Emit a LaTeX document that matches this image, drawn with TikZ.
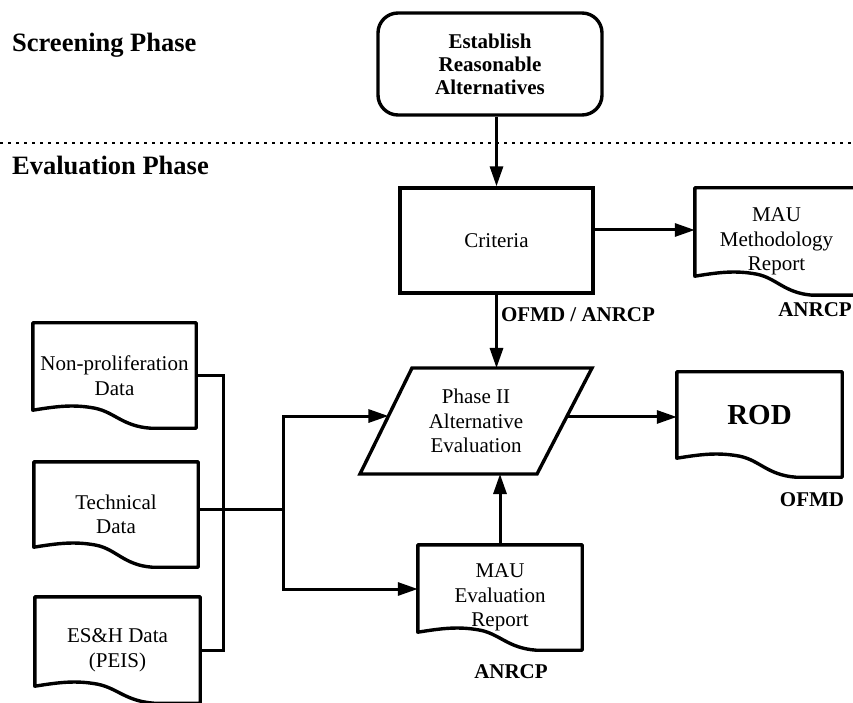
\documentclass[tikz,border=0pt]{standalone}
\usepackage{fontspec}
\setmainfont{Liberation Serif}
\usetikzlibrary{arrows.meta,calc}

\tikzset{
  outline/.style={line width=3.4pt},
  flow/.style={line width=3pt},
  arr/.style={flow,-{Triangle[length=20pt,width=13pt]}},
  box/.style={draw, outline, inner sep=0pt, align=center,
              font=\fontsize{21}{24.5}\selectfont},
  docnode/.style={inner sep=0pt, align=center, font=\fontsize{21}{24.5}\selectfont},
  tag/.style={font=\bfseries\fontsize{21}{23}\selectfont, inner sep=0pt},
  phasetitle/.style={font=\bfseries\fontsize{26.5}{30}\selectfont, inner sep=0pt, anchor=base west},
  divider/.style={line width=2.2pt, dash pattern=on 2.5pt off 5.5pt},
}

% Document symbol: rectangle whose bottom edge is a wave.
% #1 = node name, #2 = height of the wave's left end above the bottom
\newcommand\docoutline[2]{%
  \draw[outline, line join=round] (#1.north west) -- ($(#1.south west)+(0,#2)$)
    .. controls ($(#1.south west)!0.15!(#1.south east)+(0,#2+4)$)
           and ($(#1.south west)!0.25!(#1.south east)+(0,#2+6)$)
    .. ($(#1.south west)!0.38!(#1.south east)+(0,#2+2)$)
    .. controls ($(#1.south west)!0.5!(#1.south east)+(0,#2-2)$)
           and ($(#1.south west)!0.55!(#1.south east)+(0,2)$)
    .. ($(#1.south west)!0.72!(#1.south east)$)
    -- (#1.south east) -- (#1.north east) -- cycle;}

\begin{document}
\begin{tikzpicture}[x=1pt,y=1pt]
\useasboundingbox (0,0) rectangle (853,702);

% phase headings and divider
\node[phasetitle] (scr) at (12,650) {Screening Phase};
\node[phasetitle] (eva) at (12,527) {Evaluation Phase};
\coordinate (dl) at (0,559);
\coordinate (dr) at (853,559);
\draw[divider] (dl) -- (dr);

% screening step
\node[box, rounded corners=20pt, minimum width=224pt, minimum height=102pt,
      font=\bfseries\fontsize{21}{23}\selectfont] (est) at (490,638)
      {Establish\\Reasonable\\Alternatives};

% criteria
\node[box, minimum width=193pt, minimum height=105pt] (crit) at (496.5,461.5) {Criteria};

% documents
\node[docnode, minimum width=163pt, minimum height=107pt] (meth) at (776.5,460.5)
      {MAU\\Methodology\\Report};
\docoutline{meth}{19}
\node[tag, anchor=east] (methorg) at (852,392) {ANRCP};

\node[docnode, minimum width=165pt, minimum height=105pt,
      label={[font=\bfseries\fontsize{29}{32}\selectfont, yshift=9.5pt]center:ROD}]
      (rod) at (759.5,277.5) {};
\docoutline{rod}{19}
\node[tag] (rodorg) at (812,202) {OFMD};

\node[docnode, minimum width=164pt, minimum height=105pt] (eval) at (500,104.5)
      {MAU\\Evaluation\\Report};
\docoutline{eval}{18}
\node[tag] (evalorg) at (511,30) {ANRCP};

\node[docnode, minimum width=163pt, minimum height=105pt] (np) at (114.5,326.5)
      {Non-proliferation\\Data};
\docoutline{np}{18}
\node[docnode, minimum width=164pt, minimum height=105pt] (tech) at (116,187.5)
      {Technical\\Data};
\docoutline{tech}{20}
\node[docnode, minimum width=165pt, minimum height=106pt] (esh) at (117.5,52)
      {ES\&H Data\\(PEIS)};
\docoutline{esh}{17}

% phase II evaluation (parallelogram)
\coordinate (ptl) at (412,334);
\coordinate (ptr) at (592,334);
\coordinate (pbr) at (537,228);
\coordinate (pbl) at (360,228);
\draw[outline, line join=miter] (ptl) -- (ptr) -- (pbr) -- (pbl) -- cycle;
\node[docnode] (phase) at (476,281) {Phase II\\Alternative\\Evaluation};
\coordinate (pin) at ($(pbl)!0.547!(ptl)$);
\coordinate (pout) at ($(pbr)!0.538!(ptr)$);

% connectors
\draw[arr] (crit.north |- est.south) -- (crit.north);
\coordinate (ce) at ([yshift=10.5pt]crit.east);
\draw[arr] (ce) -- (ce -| meth.west);
\draw[arr] (crit.south) -- (crit.south |- ptl)
  node[pos=0.27, tag, anchor=west, xshift=3pt] {OFMD / ANRCP};
\draw[arr] (pout) -- (pout -| rod.west);
\draw[arr] (eval.north) -- (eval.north |- pbl);

% data inputs
\coordinate (bus) at (223,0);
\draw[flow] (np.east) -| (bus |- esh.east) -- (esh.east);
\coordinate (te) at ([yshift=5.5pt]tech.east);
\coordinate (split) at (283,193);
\draw[flow] (te) -- (split);
\coordinate (ee) at ([yshift=8.5pt]eval.west);
\draw[arr] (split) |- (pin);
\draw[arr] (split) |- (ee);
\end{tikzpicture}
\end{document}
